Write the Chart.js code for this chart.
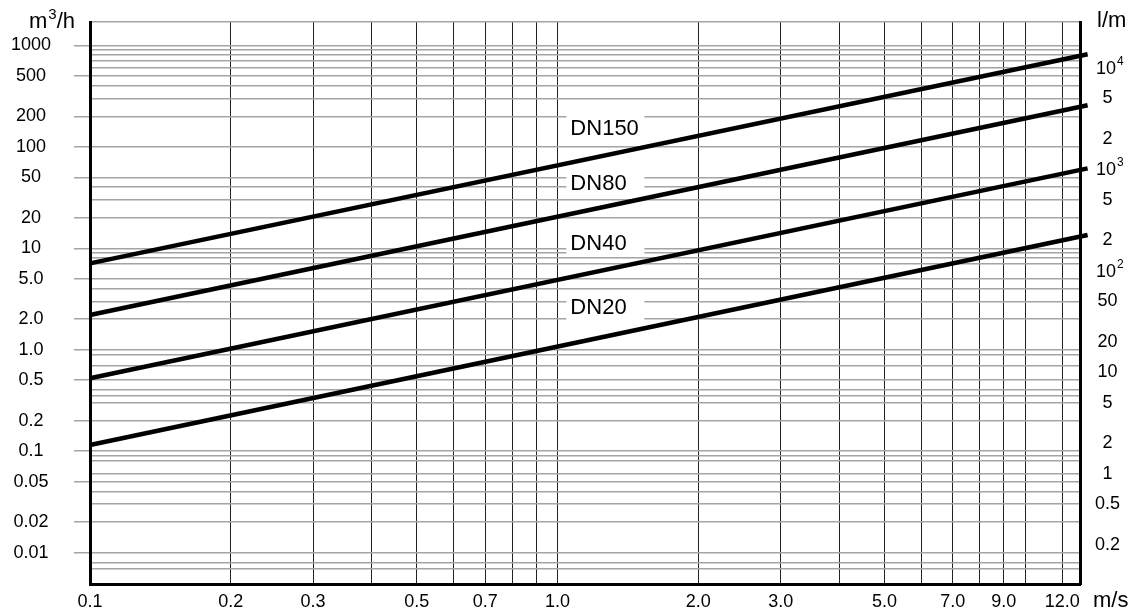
<!DOCTYPE html>
<html>
<head>
<meta charset="utf-8">
<title>Pipe flow chart</title>
<script src="https://cdn.jsdelivr.net/npm/chart.js@4.4.1/dist/chart.umd.min.js"></script>
<style>
  html, body { margin: 0; padding: 0; background: #fff; }
  #wrap { position: relative; width: 1135px; height: 612px; }
</style>
</head>
<body>
<div id="wrap"><canvas id="flowChart"></canvas></div>
<script>
// ---- velocity axis (m/s)
const velocityTicks = [0.1, 0.2, 0.3, 0.5, 0.7, 1, 2, 3, 5, 7, 9, 12];
const velocityLabels = ['0.1', '0.2', '0.3', '0.5', '0.7', '1.0', '2.0', '3.0', '5.0', '7.0', '9.0', '12.0'];
const velocityGrid = [0.2, 0.3, 0.4, 0.5, 0.6, 0.7, 0.8, 0.9, 1, 2, 3, 4, 5, 6, 7, 8, 9, 10, 12];
const velocityMin = 0.1;
const velocityMax = 13.1;

// ---- flow axis (m3/h), left
const flowTicks = [1000, 500, 200, 100, 50, 20, 10, 5, 2, 1, 0.5, 0.2, 0.1, 0.05, 0.02, 0.01];
const flowLabels = ['1000', '500', '200', '100', '50', '20', '10', '5.0', '2.0', '1.0', '0.5', '0.2', '0.1', '0.05', '0.02', '0.01'];
const flowMinorGrid = [900, 800, 700, 600, 400, 300, 40, 30, 9, 8, 7, 4, 3, 0.9, 0.7, 0.4, 0.35, 0.3, 0.09, 0.08, 0.06, 0.04, 0.03, 0.008, 0.007];
const flowMin = 0.0049;
const flowMax = 1700;

// ---- flow axis (l/min), right; powers of ten get a raised exponent
const litreTicks = [10000, 5000, 2000, 1000, 500, 200, 100, 50, 20, 10, 5, 2, 1, 0.5, 0.2];
const litreLabels = ['10^4', '5', '2', '10^3', '5', '2', '10^2', '50', '20', '10', '5', '2', '1', '0.5', '0.2'];

// ---- pipe lines: flow (m3/h) at both ends of the velocity range
const lineVelocity = [0.1, 13.6];
const dn150 = [7.1, 819];
const dn80 = [2.2, 257];
const dn40 = [0.523, 61.3];
const dn20 = [0.115, 13.5];
const pipeNames = ['DN150', 'DN80', 'DN40', 'DN20'];
const pipeLabelFlow = [152, 43.6, 11.3, 2.62];
const pipeLabelVelocity = 1.065;

(function () {
  'use strict';

  const LPM = 1000 / 60; // m3/h -> l/min
  const FONT = '"Liberation Sans", Arial, Helvetica, sans-serif';
  const TICK_SIZE = 18;
  Chart.defaults.font.family = FONT;
  Chart.defaults.color = '#000';

  const uniq = arr => [...new Set(arr)].sort((a, b) => a - b);
  const labelFor = (values, labels) => v => {
    const i = values.indexOf(v);
    return i < 0 || labels[i].includes('^') ? '' : labels[i];
  };
  // keep the plot box fixed: no extra room for overhanging labels
  const noPad = s => { s.paddingTop = 0; s.paddingBottom = 0; s.paddingLeft = 0; s.paddingRight = 0; };

  // text with a raised exponent, left aligned at x
  function supText(ctx, base, exp, tail, x, y, size, expSize) {
    ctx.font = size + 'px ' + FONT;
    ctx.fillText(base, x, y);
    x += ctx.measureText(base).width + 1;
    ctx.font = expSize + 'px ' + FONT;
    ctx.fillText(exp, x, y - size * 0.42);
    x += ctx.measureText(exp).width;
    if (tail) {
      ctx.font = size + 'px ' + FONT;
      ctx.fillText(tail, x, y);
    }
  }

  const captions = {
    id: 'captions',
    // DN captions sit on a white patch that cuts the grid
    beforeDatasetsDraw(chart) {
      const { ctx, scales: { x, y } } = chart;
      ctx.save();
      ctx.font = '22px ' + FONT;
      ctx.textAlign = 'left';
      ctx.textBaseline = 'middle';
      pipeNames.forEach((name, i) => {
        const px = x.getPixelForValue(pipeLabelVelocity);
        const py = y.getPixelForValue(pipeLabelFlow[i]);
        ctx.fillStyle = '#fff';
        ctx.fillRect(px - 4, py - 13, 78, 26);
        ctx.fillStyle = '#000';
        ctx.fillText(name, px, py + 1);
      });
      ctx.restore();
    },
    afterDraw(chart) {
      const { ctx, chartArea, scales: { y2 } } = chart;
      ctx.save();
      ctx.fillStyle = '#000';
      ctx.textAlign = 'left';
      ctx.textBaseline = 'alphabetic';
      supText(ctx, 'm', '3', '/h', 29, chartArea.top + 6, 22, 15);
      ctx.font = '22px ' + FONT;
      ctx.fillText('l/m', chartArea.right + 17, chartArea.top + 5);
      ctx.fillText('m/s', chartArea.right + 13, chartArea.bottom + 23);

      // powers of ten on the l/min axis
      ctx.textBaseline = 'middle';
      litreTicks.forEach((v, i) => {
        const parts = litreLabels[i].split('^');
        if (parts.length < 2) return;
        supText(ctx, parts[0], parts[1], '', y2.left + 16, y2.getPixelForValue(v) + 1, TICK_SIZE, 12);
      });
      ctx.restore();
    }
  };

  const pipes = [dn150, dn80, dn40, dn20];

  new Chart(document.getElementById('flowChart'), {
    type: 'line',
    data: {
      datasets: pipes.map((flows, i) => ({
        label: pipeNames[i],
        data: lineVelocity.map((v, k) => ({ x: v, y: flows[k] })),
        borderColor: '#000',
        borderWidth: 4.5,
        pointRadius: 0,
        clip: false,
        xAxisID: 'x',
        yAxisID: 'y'
      }))
    },
    options: {
      responsive: true,
      maintainAspectRatio: false,
      animation: false,
      devicePixelRatio: 1,
      layout: { padding: { top: 22, left: 0, right: 0, bottom: 0 } },
      plugins: { legend: { display: false }, tooltip: { enabled: false } },
      scales: {
        x: {
          type: 'logarithmic',
          position: 'bottom',
          min: velocityMin,
          max: velocityMax,
          afterBuildTicks: s => { s.ticks = uniq([...velocityTicks, ...velocityGrid]).map(v => ({ value: v })); },
          afterFit: s => { s.height = 28; noPad(s); },
          grid: { color: '#222', lineWidth: 1, drawTicks: false },
          border: { color: '#000', width: 3 },
          ticks: {
            autoSkip: false, maxRotation: 0, padding: 7,
            font: { size: TICK_SIZE },
            callback: labelFor(velocityTicks, velocityLabels)
          }
        },
        y: {
          type: 'logarithmic',
          position: 'left',
          min: flowMin,
          max: flowMax,
          afterBuildTicks: s => { s.ticks = uniq([...flowTicks, ...flowMinorGrid, flowMax]).map(v => ({ value: v })); },
          afterFit: s => { s.width = 90; noPad(s); },
          grid: {
            color: '#a4a4a4',
            lineWidth: 1.5,
            tickLength: 16,
            tickColor: c => (c.tick && flowTicks.includes(c.tick.value)) ? '#a4a4a4' : 'rgba(0,0,0,0)'
          },
          border: { color: '#000', width: 3 },
          ticks: {
            autoSkip: false, crossAlign: 'center', padding: 23,
            font: { size: TICK_SIZE },
            callback: labelFor(flowTicks, flowLabels)
          }
        },
        y2: {
          type: 'logarithmic',
          position: 'right',
          min: flowMin * LPM,
          max: flowMax * LPM,
          afterBuildTicks: s => { s.ticks = litreTicks.map(v => ({ value: v })); },
          afterFit: s => { s.width = 55; noPad(s); },
          grid: { display: false, drawTicks: false },
          border: { color: '#000', width: 3 },
          ticks: {
            autoSkip: false, crossAlign: 'center', padding: 15,
            font: { size: TICK_SIZE },
            callback: labelFor(litreTicks, litreLabels)
          }
        }
      }
    },
    plugins: [captions]
  });
})();
</script>
</body>
</html>
